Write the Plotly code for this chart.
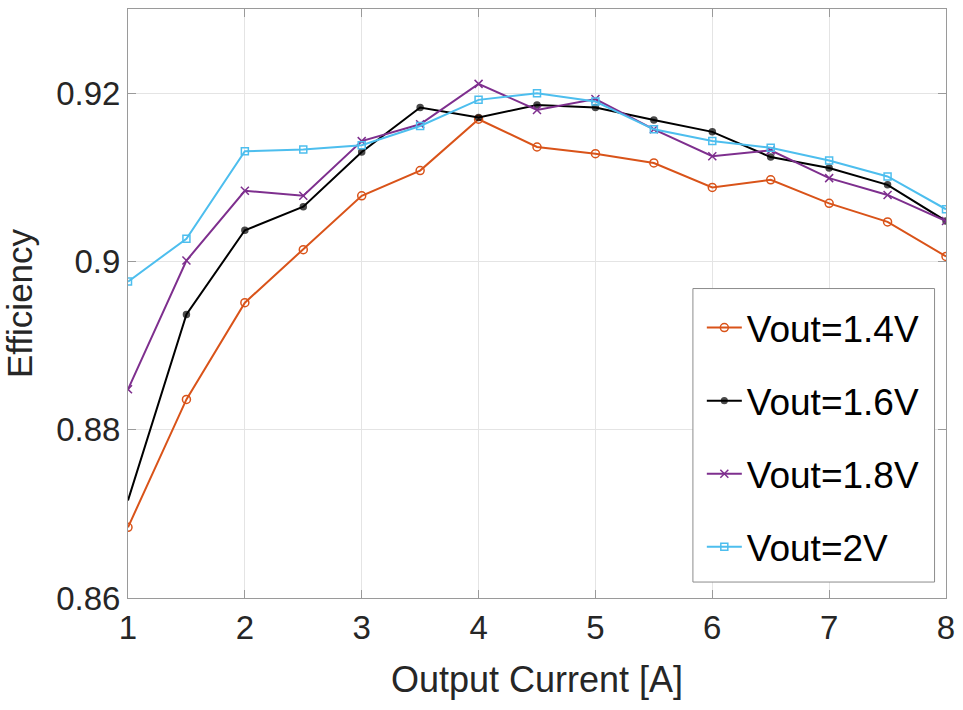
import plotly.graph_objects as go

# Output current sweep [A]
current = [1, 1.5, 2, 2.5, 3, 3.5, 4, 4.5, 5, 5.5, 6, 6.5, 7, 7.5, 8]

# Measured efficiency for each output voltage
eff_14 = [0.8684, 0.8836, 0.8951, 0.9014, 0.9078, 0.9108, 0.9169, 0.9136,
          0.9128, 0.9117, 0.9088, 0.9097, 0.9069, 0.9047, 0.9006]
eff_16 = [0.8716, 0.8937, 0.9037, 0.9065, 0.9130, 0.9183, 0.9171, 0.9186,
          0.9183, 0.9168, 0.9154, 0.9124, 0.9111, 0.9091, 0.9048]
eff_18 = [0.8848, 0.9001, 0.9084, 0.9078, 0.9143, 0.9163, 0.9211, 0.9180,
          0.9193, 0.9157, 0.9125, 0.9132, 0.9099, 0.9079, 0.9048]
eff_20 = [0.8976, 0.9027, 0.9131, 0.9133, 0.9138, 0.9161, 0.9192, 0.9200,
          0.9190, 0.9157, 0.9143, 0.9135, 0.9120, 0.9101, 0.9062]

labels = ["Vout=1.4V", "Vout=1.6V", "Vout=1.8V", "Vout=2V"]
y_ticks = [0.86, 0.88, 0.90, 0.92]
x_ticks = [1, 2, 3, 4, 5, 6, 7, 8]

FONT = "Liberation Sans, Arial, Helvetica, sans-serif"
AX_COL = "#9a9a9a"
GRID_COL = "#e4e4e4"

styles = [
    dict(color="#D95319", symbol="circle-open", size=8),
    dict(color="#000000", symbol="circle", size=[0] + [6] * 14),
    dict(color="#7E2F8E", symbol="x-thin-open", size=8),
    dict(color="#4DBEEE", symbol="square-open", size=7),
]

fig = go.Figure()
for i, (ys, name, st) in enumerate(zip([eff_14, eff_16, eff_18, eff_20], labels, styles)):
    fig.add_trace(go.Scatter(
        x=current, y=ys, name=name, mode="lines+markers",
        legendgroup=f"g{i}",
        line=dict(color=st["color"], width=2),
        marker=dict(symbol=st["symbol"], size=st["size"], color=st["color"],
                    line=dict(color=st["color"], width=1.5)),
        cliponaxis=True,
    ))

axis_common = dict(
    showline=True, linecolor=AX_COL, linewidth=1, mirror="ticks",
    ticks="inside", ticklen=8, tickcolor=AX_COL, tickwidth=1,
    showgrid=True, gridcolor=GRID_COL, gridwidth=1, zeroline=False,
    tickfont=dict(family=FONT, size=33, color="#262626"),
)

# Legend frame, drawn as a white box under the legend entries
fig.add_shape(type="rect", xref="paper", yref="paper",
              x0=0.6906, x1=0.9860, y0=0.0271, y1=0.5254,
              fillcolor="white", line=dict(color="#8c8c8c", width=1),
              layer="above")

fig.update_layout(
    width=963, height=710,
    margin=dict(l=128, r=11, t=8, b=112),
    paper_bgcolor="white", plot_bgcolor="white",
    font=dict(family=FONT, color="#262626"),
    xaxis=dict(range=[1, 8], tickvals=x_ticks,
               title=dict(text="Output Current [A]", standoff=22,
                          font=dict(family=FONT, size=36, color="#262626")),
               **axis_common),
    yaxis=dict(range=[0.86, 0.93], tickvals=y_ticks,
               ticktext=["0.86", "0.88", "0.9", "0.92"],
               title=dict(text="Efficiency", standoff=16,
                          font=dict(family=FONT, size=35, color="#262626")),
               **axis_common),
    legend=dict(
        x=0.7015, y=0.511, xanchor="left", yanchor="top",
        bgcolor="rgba(0,0,0,0)", borderwidth=0,
        font=dict(family=FONT, size=37, color="#000000"),
        tracegroupgap=22, itemwidth=35,
    ),
    showlegend=True,
)

fig.write_html("out.html")
